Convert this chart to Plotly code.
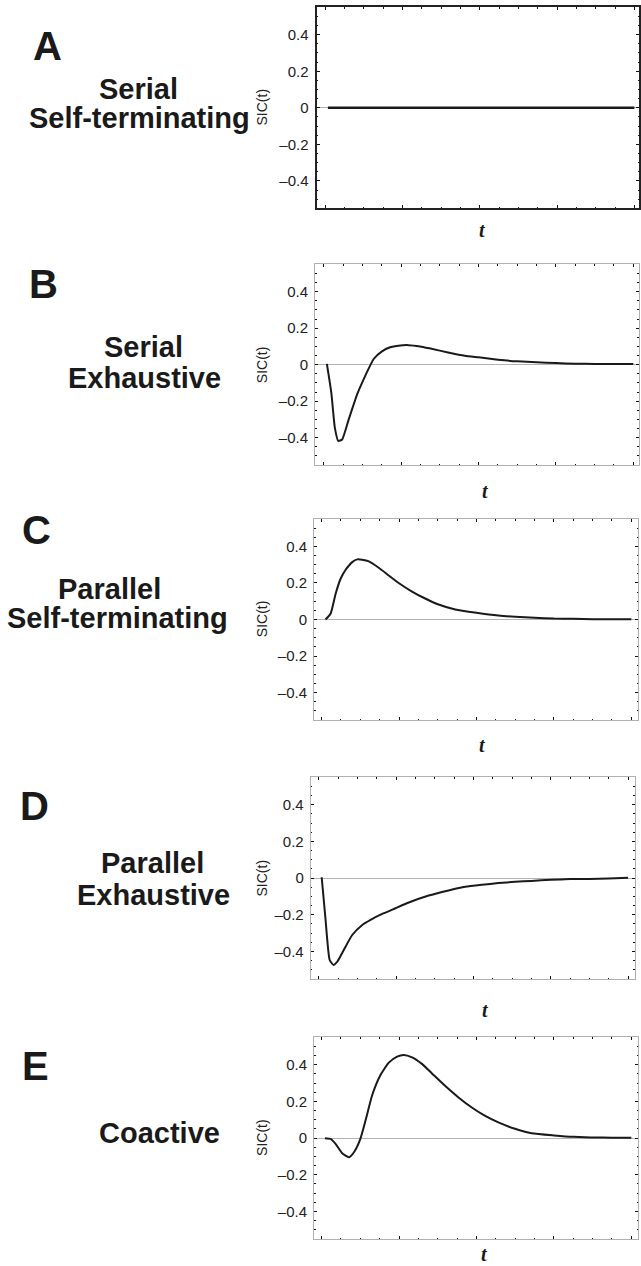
import plotly.graph_objects as go

W, H = 641, 1266

# ---------------- data ----------------
panel_letters = ["A", "B", "C", "D", "E"]
panel_titles = [
    ["Serial", "Self-terminating"],
    ["Serial", "Exhaustive"],
    ["Parallel", "Self-terminating"],
    ["Parallel", "Exhaustive"],
    ["Coactive"],
]

t_A = [0.15, 2, 4, 6, 8, 10, 12, 14, 16]
sic_A = [0, 0, 0, 0, 0, 0, 0, 0, 0]

t_B = [0.15, 0.38, 0.56, 0.74, 0.94, 1.28, 1.71, 2.14, 2.57, 3.0, 3.42, 3.85, 4.37,
       4.97, 5.56, 6.42, 7.28, 8.0, 9.0, 10.0, 11.0, 12.0, 13.0, 14.0, 15.0, 16.0]
sic_B = [0.004, -0.155, -0.345, -0.418, -0.41, -0.30, -0.164, -0.06, 0.031, 0.073, 0.095,
         0.104, 0.107, 0.100, 0.087, 0.067, 0.049, 0.040, 0.027, 0.018, 0.013, 0.009,
         0.005, 0.004, 0.004, 0.004]

t_C = [0.2, 0.46, 0.72, 0.98, 1.24, 1.58, 1.84, 2.09, 2.44, 2.95, 3.47, 3.98, 4.67,
       5.27, 6.04, 6.9, 8.0, 9.13, 10.0, 11.0, 12.0, 13.0, 14.0, 15.0, 16.0]
sic_C = [0.0, 0.031, 0.14, 0.223, 0.272, 0.314, 0.329, 0.327, 0.318, 0.283, 0.241, 0.2,
         0.153, 0.119, 0.082, 0.055, 0.037, 0.022, 0.015, 0.009, 0.005, 0.004, 0.002,
         0.002, 0.002]

t_D = [0.14, 0.34, 0.55, 0.74, 0.95, 1.29, 1.72, 2.24, 2.67, 3.27, 3.96, 4.65, 5.68,
       6.71, 7.57, 8.43, 9.29, 10.15, 11.0, 12.0, 13.0, 14.0, 15.0, 16.0]
sic_D = [0.005, -0.227, -0.445, -0.473, -0.455, -0.39, -0.31, -0.255, -0.227, -0.195,
         -0.164, -0.133, -0.095, -0.067, -0.047, -0.036, -0.027, -0.02, -0.015, -0.009,
         -0.005, -0.004, -0.002, 0.002]

t_E = [0.17, 0.46, 0.72, 1.06, 1.41, 1.67, 2.0, 2.27, 2.61, 3.04, 3.47, 3.9, 4.24, 4.67,
       5.18, 5.7, 6.39, 7.07, 7.76, 8.45, 9.13, 9.99, 10.85, 12.0, 13.0, 14.0, 15.0, 16.0]
sic_E = [0.0, -0.004, -0.031, -0.082, -0.104, -0.077, -0.004, 0.097, 0.234, 0.344, 0.412,
         0.445, 0.454, 0.441, 0.405, 0.353, 0.284, 0.222, 0.167, 0.121, 0.086, 0.051,
         0.027, 0.015, 0.007, 0.004, 0.002, 0.002]

series_t = [t_A, t_B, t_C, t_D, t_E]
series_sic = [sic_A, sic_B, sic_C, sic_D, sic_E]

y_tickvals = [-0.4, -0.2, 0, 0.2, 0.4]
y_ticktext = ["\u20130.4", "\u20130.2", "0", "0.2", "0.4"]
y_label = "SIC(t)"
x_label = "t"

# ---------------- layout (pixel geometry) ----------------
# panel frame boxes: left, top, right, bottom (px)
boxes = [
    (317.5, 7.3, 641.0, 208.3),
    (316.0, 264.3, 640.5, 465.0),
    (315.0, 519.0, 640.0, 720.0),
    (311.7, 777.3, 636.5, 979.0),
    (315.0, 1037.3, 640.0, 1239.0),
]
x_ranges = [[-0.44, 16.24], [-0.464, 16.27], [-0.394, 16.345], [-0.428, 16.335], [-0.394, 16.345]]
letter_pos = [(47.7, 46), (44, 284), (37, 530), (34.5, 806), (36, 1065.5)]
title_pos = [
    [(139, 89), (139.6, 118)],
    [(144, 346.7), (144.5, 378)],
    [(109.7, 589), (118, 618)],
    [(153, 863), (154, 895)],
    [(160, 1133)],
]
t_pos = [(484, 230), (487, 491), (484, 745), (487, 1010), (486, 1254)]
ylab_x = 263
zero_y = [107.3, 365, 619, 878.3, 1137.7]

fig = go.Figure()
annotations = []

def px(x):
    return x / W

def py(y):
    return 1 - y / H

for i in range(5):
    sfx = "" if i == 0 else str(i + 1)
    l, t, r, b = boxes[i]
    frame_col = "#222222" if i == 0 else "#b0b0b0"
    frame_w = 2 if i == 0 else 1
    fig.add_trace(go.Scatter(
        x=series_t[i], y=series_sic[i], mode="lines",
        line=dict(color="#1a1a1a", width=2.5 if i == 0 else 2, shape="spline", smoothing=0.5),
        xaxis="x" + sfx, yaxis="y" + sfx, showlegend=False, hoverinfo="skip",
    ))
    fig.layout["xaxis" + sfx] = dict(
        domain=[px(l), min(px(r), 1.0)], range=x_ranges[i], anchor="y" + sfx,
        showgrid=False, zeroline=False, showline=True, linecolor=frame_col, linewidth=frame_w,
        mirror="ticks", ticks="inside", tick0=0, dtick=4, ticklen=3, tickwidth=1,
        tickcolor="#111111", showticklabels=False,
        minor=dict(ticks="inside", dtick=1, ticklen=1.5, tickwidth=1, tickcolor="#111111", showgrid=False),
        fixedrange=True,
    )
    fig.layout["yaxis" + sfx] = dict(
        domain=[py(b), py(t)], range=[-0.55, 0.55], anchor="x" + sfx,
        showgrid=False, zeroline=True, zerolinecolor="#b4b4b4", zerolinewidth=1,
        showline=True, linecolor=frame_col, linewidth=frame_w, mirror="ticks",
        ticks="inside", tickvals=y_tickvals, ticktext=y_ticktext, ticklen=3, tickwidth=1,
        tickcolor="#111111",
        minor=dict(ticks="inside", dtick=0.05, tick0=0, ticklen=1.5, tickwidth=1, tickcolor="#111111", showgrid=False),
        tickfont=dict(family="Liberation Sans, Arial", size=15, color="#222222"),
        ticklabelstandoff=3,
        fixedrange=True,
    )
    # panel letter
    annotations.append(dict(
        x=px(letter_pos[i][0]), y=py(letter_pos[i][1]), xref="paper", yref="paper",
        text="<b>%s</b>" % panel_letters[i], showarrow=False, xanchor="center", yanchor="middle",
        font=dict(family="Liberation Sans, Arial", size=40, color="#1a1a1a"),
    ))
    for line_txt, (tx, ty) in zip(panel_titles[i], title_pos[i]):
        annotations.append(dict(
            x=px(tx), y=py(ty), xref="paper", yref="paper", text="<b>%s</b>" % line_txt,
            showarrow=False, xanchor="center", yanchor="middle",
            font=dict(family="Liberation Sans, Arial", size=29, color="#1a1a1a"),
        ))
    annotations.append(dict(
        x=px(t_pos[i][0]), y=py(t_pos[i][1]), xref="paper", yref="paper",
        text="<b><i>%s</i></b>" % x_label, showarrow=False, xanchor="center", yanchor="middle",
        font=dict(family="Liberation Serif, Times New Roman", size=20, color="#1a1a1a"),
    ))
    annotations.append(dict(
        x=px(ylab_x), y=py(zero_y[i]), xref="paper", yref="paper", text=y_label,
        showarrow=False, xanchor="center", yanchor="middle", textangle=-90,
        font=dict(family="Liberation Sans, Arial", size=14, color="#222222"),
    ))

fig.update_layout(
    width=W, height=H, margin=dict(l=0, r=0, t=0, b=0),
    paper_bgcolor="white", plot_bgcolor="white", annotations=annotations,
)

fig.write_html("out.html")
